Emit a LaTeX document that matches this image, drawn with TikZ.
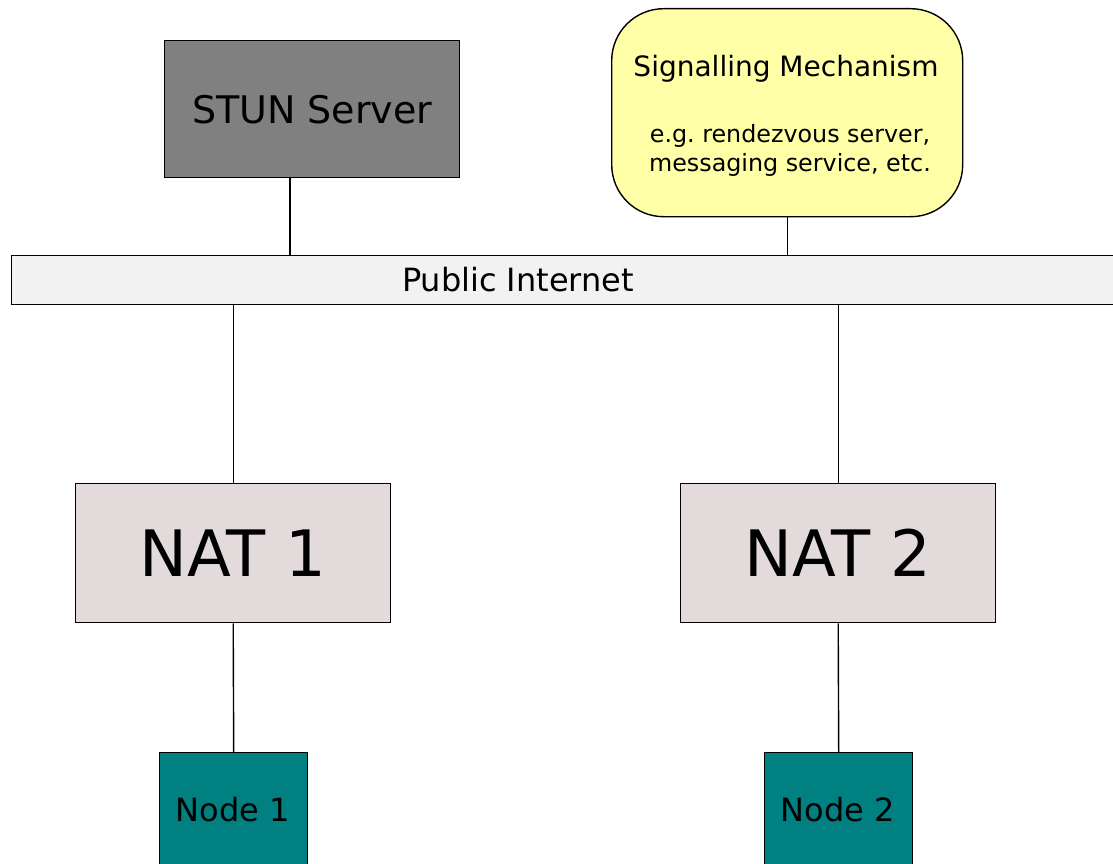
\documentclass[tikz,border=0pt]{standalone}
\usepackage{fontspec}
\setmainfont{DejaVu Sans}
\frenchspacing
\begin{document}
\begin{tikzpicture}[x=1pt,y=-1pt,
  box/.style={draw=black,line width=1.4pt,inner sep=0pt,anchor=north west},
  wire/.style={draw=black,line width=1.4pt},
  fs/.style 2 args={font=\fontsize{#1}{#2}\selectfont}]
\useasboundingbox (0,0) rectangle (1113,864);
\fill[white] (0,0) rectangle (1113,864);

% servers on the public side
\node[box,fill={rgb,255:red,128;green,128;blue,128},minimum width=295pt,minimum height=137pt,fs={38}{46}]
  (stun) at (164,40) {STUN Server};
\node[box,fill={rgb,255:red,255;green,255;blue,168},rounded corners=52pt,minimum width=351pt,minimum height=208pt]
  (sig) at (611,8) {};
\node[fs={28}{34}] (sigtitle) at (786,69) {Signalling Mechanism};
\node[fs={23.8}{29},align=center] (sigtext) at (790,150) {e.g. rendezvous server,\\ messaging service, etc.};

% the public internet
\node[box,fill={rgb,255:red,242;green,242;blue,242},minimum width=1102pt,minimum height=49pt]
  (inet) at (11,255) {};
\node[fs={32}{38}] (inetlabel) at (518,280) {Public Internet};

% NAT devices
\node[box,fill={rgb,255:red,227;green,219;blue,219},minimum width=315pt,minimum height=139pt,fs={64}{76}]
  (nat1) at (75,483) {NAT 1};
\node[box,fill={rgb,255:red,227;green,219;blue,219},minimum width=315pt,minimum height=139pt,fs={64}{76}]
  (nat2) at (680,483) {NAT 2};

% end hosts
\node[box,fill={rgb,255:red,0;green,128;blue,128},minimum width=148pt,minimum height=130pt]
  (host1) at (159,752) {};
\node[fs={32}{38}] (host1label) at (233,810) {Node 1};
\node[box,fill={rgb,255:red,0;green,128;blue,128},minimum width=148pt,minimum height=130pt]
  (host2) at (764,752) {};
\node[fs={32}{38}] (host2label) at (838,810) {Node 2};

% links
\coordinate (stunport) at (290,177);
\draw[wire] (stunport) -- (stunport |- inet.north);
\draw[wire] (sig.south) -- (sig.south |- inet.north);
\draw[wire] (nat1.north |- inet.south) -- (nat1.north);
\draw[wire] (nat2.north |- inet.south) -- (nat2.north);
\draw[wire] (nat1.south) -- (host1.north);
\draw[wire] (nat2.south) -- (host2.north);
\end{tikzpicture}
\end{document}
